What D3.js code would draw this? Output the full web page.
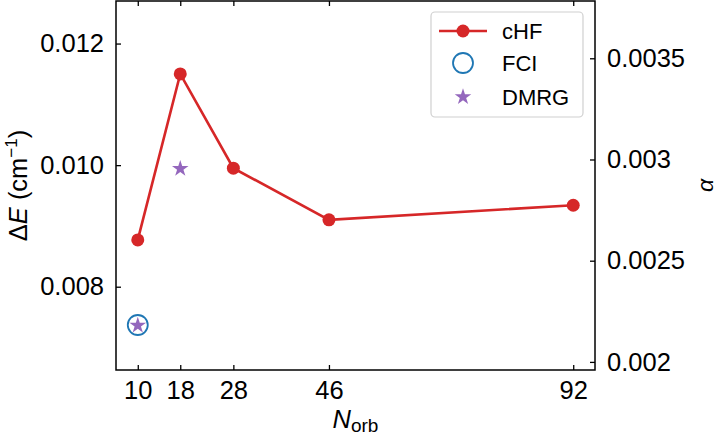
<!DOCTYPE html>
<html>
<head>
<meta charset="utf-8">
<script src="https://cdn.jsdelivr.net/npm/d3@7"></script>
<style>
  body { margin: 0; background: #fff; }
  text { font-family: "Liberation Sans", Arial, sans-serif; fill: #000; }
</style>
</head>
<body>
<div id="chart"></div>
<script>
// data
const norb = [10, 18, 28, 46, 92];
const chf = [0.00877, 0.01150, 0.00995, 0.00910, 0.00934];
const fciN = [10];
const fci = [0.00737];
const dmrgN = [10, 18];
const dmrg = [0.00737, 0.00995];
const leftTicks = [0.008, 0.010, 0.012];
const rightTicks = [0.002, 0.0025, 0.003, 0.0035];
const rightLabels = ['0.002', '0.0025', '0.003', '0.0035'];
const legendNames = ['cHF', 'FCI', 'DMRG'];

const W = 717, H = 436;
const margin = { top: 1, right: 122, bottom: 66, left: 116 };
const width = W - margin.left - margin.right;
const height = H - margin.top - margin.bottom;

const svg = d3.select('#chart')
  .append('svg')
  .attr('width', W)
  .attr('height', H);

const g = svg.append('g')
  .attr('transform', `translate(${margin.left},${margin.top})`);

const x = d3.scaleLinear().domain([5.9, 96.1]).range([0, width]);
const y = d3.scaleLinear().domain([0.00663, 0.0127]).range([height, 0]);
const y2 = d3.scaleLinear().domain([0.00196, 0.003783]).range([height, 0]);

const fontSize = 25.5;

// axes, ticks pointing inward
const styleAxis = (sel) => {
  sel.select('.domain').remove();
  sel.selectAll('line').attr('stroke', '#000').attr('stroke-width', 1.3);
  sel.selectAll('text').style('font-size', fontSize + 'px');
};

g.append('g')
  .attr('transform', `translate(0,${height})`)
  .call(d3.axisBottom(x).tickValues(norb).tickSizeInner(-5).tickPadding(11).tickFormat(d3.format('d')))
  .call(styleAxis);

g.append('g')
  .call(d3.axisTop(x).tickValues(norb).tickSizeInner(-5).tickFormat(''))
  .call(styleAxis);

g.append('g')
  .call(d3.axisLeft(y).tickValues(leftTicks).tickSizeInner(-5).tickPadding(12).tickFormat(d3.format('.3f')))
  .call(styleAxis);

g.append('g')
  .attr('transform', `translate(${width},0)`)
  .call(d3.axisRight(y2).tickValues(rightTicks).tickSizeInner(-5).tickPadding(12).tickFormat((d, i) => rightLabels[i]))
  .call(styleAxis);

g.selectAll('.tick text').attr('fill', '#000');

// frame
g.append('rect')
  .attr('width', width)
  .attr('height', height)
  .attr('fill', 'none')
  .attr('stroke', '#000')
  .attr('stroke-width', 1.5);

// cHF line + markers
const line = d3.line().x((d, i) => x(norb[i])).y(d => y(d));
g.append('path')
  .datum(chf)
  .attr('fill', 'none')
  .attr('stroke', '#d62728')
  .attr('stroke-width', 2.6)
  .attr('d', line);

g.selectAll('.chf')
  .data(chf)
  .join('circle')
  .attr('cx', (d, i) => x(norb[i]))
  .attr('cy', d => y(d))
  .attr('r', 6.5)
  .attr('fill', '#d62728');

// FCI open circles
g.selectAll('.fci')
  .data(fci)
  .join('circle')
  .attr('cx', (d, i) => x(fciN[i]))
  .attr('cy', d => y(d))
  .attr('r', 10)
  .attr('fill', 'none')
  .attr('stroke', '#1f77b4')
  .attr('stroke-width', 1.8);

// DMRG stars
const star = d3.symbol().type(d3.symbolStar).size(85);
g.selectAll('.dmrg')
  .data(dmrg)
  .join('path')
  .attr('transform', (d, i) => `translate(${x(dmrgN[i])},${y(d) + 0.5})`)
  .attr('d', star)
  .attr('fill', '#9467bd');

// axis labels
const xl = svg.append('text')
  .attr('x', margin.left + width / 2)
  .attr('y', 428)
  .attr('text-anchor', 'middle')
  .style('font-size', fontSize + 'px');
xl.append('tspan').style('font-style', 'italic').text('N');
xl.append('tspan').attr('dy', 4).style('font-size', '19px').text('orb');

const yl = svg.append('text')
  .attr('transform', `translate(27,${margin.top + height / 2}) rotate(-90)`)
  .attr('text-anchor', 'middle')
  .style('font-size', fontSize + 'px');
yl.append('tspan').text('Δ');
yl.append('tspan').style('font-style', 'italic').text('E');
yl.append('tspan').text(' (cm');
yl.append('tspan').attr('dy', -10).style('font-size', '17px').text('−1');
yl.append('tspan').attr('dy', 10).text(')');

svg.append('text')
  .attr('transform', `translate(713,${margin.top + height / 2}) rotate(-90)`)
  .attr('text-anchor', 'middle')
  .style('font-size', '23px')
  .style('font-style', 'italic')
  .text('α');

// legend
const lg = svg.append('g');
lg.append('rect')
  .attr('x', 431).attr('y', 12)
  .attr('width', 152).attr('height', 105)
  .attr('rx', 4)
  .attr('fill', '#fff')
  .attr('fill-opacity', 0.8)
  .attr('stroke', '#d0d0d0')
  .attr('stroke-width', 1.2);

const rowY = [31, 63, 97];
lg.append('line')
  .attr('x1', 439).attr('x2', 487)
  .attr('y1', rowY[0]).attr('y2', rowY[0])
  .attr('stroke', '#d62728').attr('stroke-width', 2.6);
lg.append('circle')
  .attr('cx', 463).attr('cy', rowY[0]).attr('r', 6.5)
  .attr('fill', '#d62728');
lg.append('circle')
  .attr('cx', 463).attr('cy', rowY[1]).attr('r', 10)
  .attr('fill', 'none').attr('stroke', '#1f77b4').attr('stroke-width', 1.8);
lg.append('path')
  .attr('transform', `translate(463,${rowY[2]})`)
  .attr('d', star)
  .attr('fill', '#9467bd');

lg.selectAll('.lbl')
  .data(legendNames)
  .join('text')
  .attr('x', 502)
  .attr('y', (d, i) => rowY[i])
  .attr('dy', '0.36em')
  .style('font-size', '22px')
  .text(d => d);
</script>
</body>
</html>
